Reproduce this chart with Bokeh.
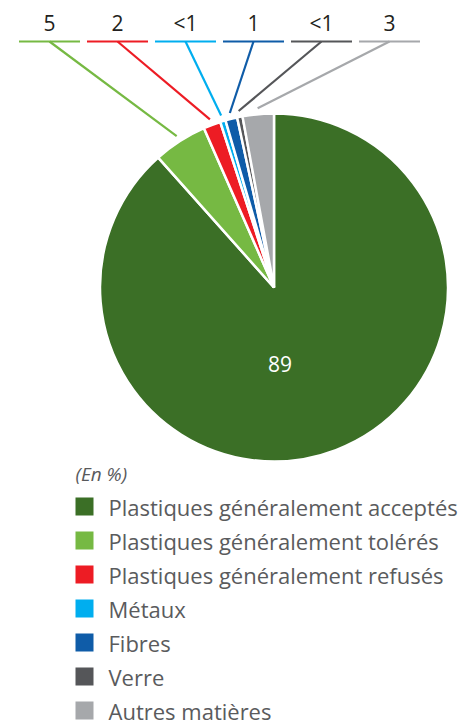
import math
from bokeh.plotting import figure
from bokeh.models import Range1d
from bokeh.core.properties import value
from bokeh.embed import file_html
from bokeh.resources import INLINE

categories = ["Plastiques généralement acceptés", "Plastiques généralement tolérés",
              "Plastiques généralement refusés", "Métaux", "Fibres", "Verre", "Autres matières"]
shares = [88.5, 5.0, 1.6, 0.5, 1.1, 0.5, 2.9]
labels = ["89", "5", "2", "<1", "1", "<1", "3"]
colors = ["#3b6f26", "#76b943", "#ed1c24", "#00aeef", "#0f5ca8", "#555659", "#a6a8ab"]
unit_note = "(En %)"

W, H = 475, 725
p = figure(width=W, height=H, output_backend="svg", toolbar_location=None,
           x_range=Range1d(0, W), y_range=Range1d(0, H),
           min_border=0, outline_line_color=None)
p.axis.visible = False
p.grid.visible = False
p.background_fill_color = "white"
p.border_fill_color = "white"

def Y(page_y):
    return H - page_y

FONT = "Open Sans"
cx, cy, r = 273.5, Y(287), 174
total = sum(shares)
starts, ends = [], []
cum = 0.0
for s in shares:
    a0 = math.pi / 2 - 2 * math.pi * cum / total
    cum += s
    a1 = math.pi / 2 - 2 * math.pi * cum / total
    starts.append(a0)
    ends.append(a1)

p.wedge(x=[cx] * len(shares), y=[cy] * len(shares), radius=r,
        start_angle=starts, end_angle=ends, direction="clock",
        fill_color=colors, line_color="white", line_width=2.5)

# main label
p.text(x=[cx + 6], y=[Y(363)], text=[labels[0]], text_color="white",
       text_font=value(FONT), text_font_size="21px", text_align="center",
       text_baseline="middle")

# leader lines for small slices
for i in range(1, len(shares)):
    k = i - 1
    lx = 49 + k * 68
    mid = (starts[i] + ends[i]) / 2
    ex = cx + (r + 6) * math.cos(mid)
    ey = cy + (r + 6) * math.sin(mid)
    p.line(x=[lx - 30.5, lx + 30.5], y=[Y(41), Y(41)], line_color=colors[i], line_width=2.2)
    p.line(x=[lx, ex], y=[Y(41), ey], line_color=colors[i], line_width=2.2)
    p.text(x=[lx], y=[Y(22)], text=[labels[i]], text_color="#231f20",
           text_font=value(FONT), text_font_size="21px", text_align="center",
           text_baseline="middle")

# legend
p.text(x=[75], y=[Y(473)], text=[unit_note], text_color="#58595b",
       text_font=value(FONT), text_font_size="19px", text_font_style="italic",
       text_baseline="middle")
ys = [Y(506 + i * 34.0) for i in range(len(categories))]
p.rect(x=[84] * len(categories), y=ys, width=18, height=18,
       fill_color=colors, line_color=None)
p.text(x=[108] * len(categories), y=ys, text=categories, text_color="#5a5b5d",
       text_font=value(FONT), text_font_size="22px", text_baseline="middle")

open("out.html", "w").write(file_html(p, INLINE))
